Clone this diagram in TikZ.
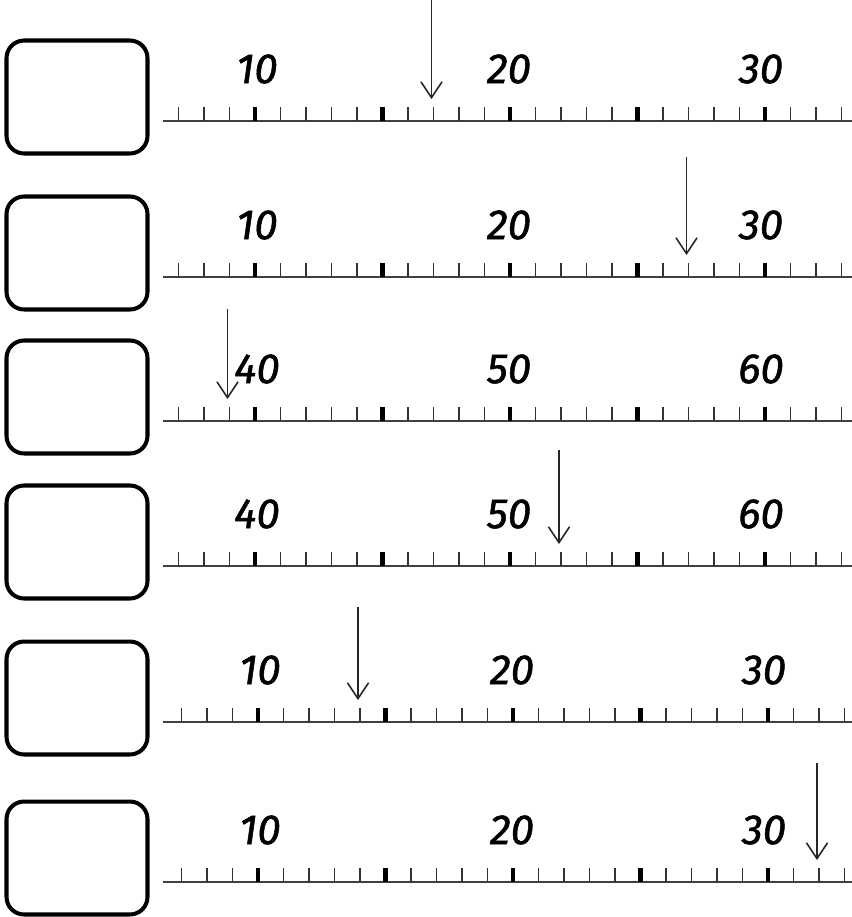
\documentclass[tikz,border=0pt]{standalone}
\usepackage{fontspec}
\setmainfont{Fira Sans}
\usetikzlibrary{arrows.meta}

\begin{document}
\begin{tikzpicture}[x=0.02cm, y=-0.02cm, >={Straight Barb[length=9pt, width=12pt]},
    answer/.style={draw, line width=2.3pt, rounded corners=10pt, minimum width=2.82cm, minimum height=2.26cm},
    num/.style={font=\fontsize{24}{28}\selectfont\itshape\addfontfeatures{FakeBold=1.2}},
    minor/.style={line width=0.8pt, black!80},
    major/.style={line width=2.6pt}]
  \useasboundingbox (0,0) rectangle (852,917);
  % row / line y / shift / first label / arrow value / arrow top
  \foreach \r/\ly/\dx/\lo/\av/\at in {1/121/0/10/17/0, 2/277/0/10/27/157, 3/421/0/40/39/309,
      4/566/0/40/52/450, 5/722/3/10/14/607, 6/882/3/10/32/763}{
    \node[answer] (box\r) at (77,\ly-24) {};
    \draw[line width=1pt, black!75] (163,\ly) -- (852,\ly);
    \foreach \k in {-3,...,23}
      \draw[minor] (255+\dx+\k*25.5,\ly) -- ++(0,-14);
    \foreach \k in {0,5,...,20}
      \draw[major] (255+\dx+\k*25.5,\ly) -- ++(0,-14);
    \foreach \j in {0,1,2}{
      \pgfmathtruncatemacro{\val}{\lo+10*\j}
      \node[num] (lab\r\j) at (257+\dx+\j*252,\ly-52) {\val};
    }
    \coordinate (top\r) at (253+\dx+\av*25.5-\lo*25.5,\at);
    \coordinate (tip\r) at (253+\dx+\av*25.5-\lo*25.5,\ly-22);
    \draw[->, line width=0.9pt, black!85] (top\r) -- (tip\r);
  }
\end{tikzpicture}
\end{document}
